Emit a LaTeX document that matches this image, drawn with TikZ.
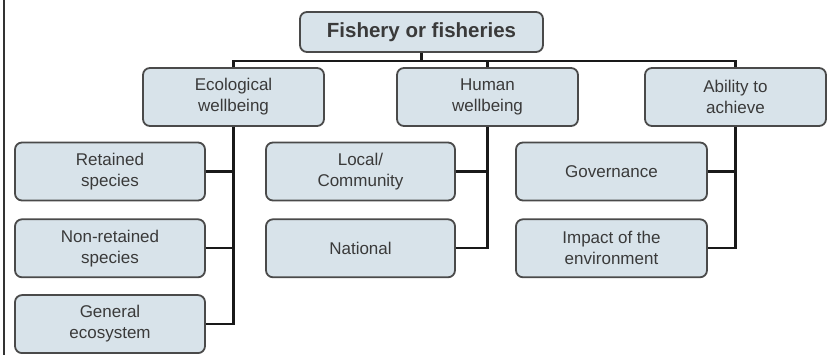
\documentclass[tikz,border=0pt]{standalone}
\usepackage{fontspec}
\setmainfont{Liberation Sans}
\usetikzlibrary{
    positioning
}
\definecolor{boxfill}{HTML}{D8E3EA}
\definecolor{boxline}{HTML}{4A4A4A}
\definecolor{boxtext}{HTML}{3A3A3A}

\begin{document}
\begin{tikzpicture}[x=1pt,y=-1pt,
    box/.style={draw=boxline,fill=boxfill,line width=1.8pt,rounded corners=7pt,
        align=center,text=boxtext,inner sep=0pt,minimum height=58pt,
        font=\fontsize{17}{21}\selectfont},
    link/.style={line width=2.2pt,black!90}
]
    \useasboundingbox (0,0) rectangle (828,355);
    \draw[line width=1.6pt,black!80] (4,0) -- (4,355);

    \node[box,minimum width=243pt,minimum height=40pt,font=\bfseries\fontsize{20.5}{24}\selectfont] (fishery) at (421.5,32) {Fishery or fisheries};

    \node[box,minimum width=181pt] (ecological) at (233.5,97) {Ecological\\wellbeing};
    \node[box,minimum width=181pt] (human) at (487.5,97) {Human\\wellbeing};
    \node[box,minimum width=181pt] (ability) at (735.5,97) {Ability to\\achieve};

    \node[box,minimum width=190pt] (retained) at (110,171.5) {Retained\\species};
    \node[box,minimum width=190pt,below=17pt of retained] (nonretained) {Non-retained\\species};
    \node[box,minimum width=190pt,below=16pt of nonretained] (general) {General\\ecosystem};

    \node[box,minimum width=189pt] (local) at (360.5,171.5) {Local/\\Community};
    \node[box,minimum width=189pt,below=17pt of local] (national) {National};

    \node[box,minimum width=191pt] (governance) at (611.5,171.5) {Governance};
    \node[box,minimum width=191pt,below=17pt of governance] (impact) {Impact of the\\environment};

    \draw[link] (fishery.south) -- ++(0,8) coordinate (bus);
    \draw[link] (ecological.north) |- (bus) -| (ability.north);
    \draw[link] (human.north) -- (human.north |- bus);

    \draw[link] (ecological.south) |- (general.east);
    \draw[link] (retained.east) -| (ecological.south);
    \draw[link] (nonretained.east) -| (ecological.south);

    \draw[link] (human.south) |- (national.east);
    \draw[link] (local.east) -| (human.south);

    \draw[link] (ability.south) |- (impact.east);
    \draw[link] (governance.east) -| (ability.south);
\end{tikzpicture}
\end{document}
